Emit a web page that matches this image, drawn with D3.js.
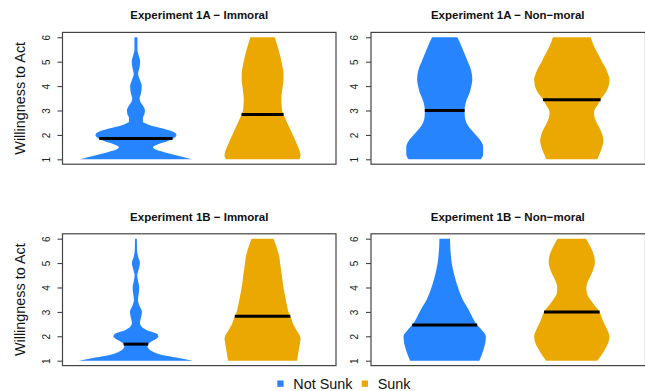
<!DOCTYPE html>
<html>
<head>
<meta charset="utf-8">
<script src="https://cdn.jsdelivr.net/npm/d3@7"></script>
<style>
body { margin: 0; background: #fff; }
svg { display: block; font-family: "Liberation Sans", Arial, Helvetica, sans-serif; }
</style>
</head>
<body>
<div id="chart"></div>
<script>
// panel titles, groups and ticks
const titles = ["Experiment 1A \u2212 Immoral", "Experiment 1A \u2212 Non\u2212moral",
                "Experiment 1B \u2212 Immoral", "Experiment 1B \u2212 Non\u2212moral"];
const groups = ["Not Sunk", "Sunk"];
const colors = ["#2684FF", "#EAA800"];
const yTicks = [1, 2, 3, 4, 5, 6];

// medians per panel: [Not Sunk, Sunk]
const medians = [[1.85, 2.84], [3.0, 3.44], [1.68, 2.82], [2.46, 3.0]];

// violin profiles: [response, relative density]
const d1AImmoralNot = [[1,56],[1.1,47],[1.2,37],[1.3,27.5],[1.4,19.5],[1.5,17],[1.6,21],[1.75,32],[1.9,39],[2.0,40.5],[2.1,38.5],[2.25,28],[2.4,14],[2.55,7],[2.7,7],[2.85,8.5],[3.0,9],[3.2,7],[3.35,4.5],[3.5,3.7],[3.7,5],[4.0,5.8],[4.25,4],[4.5,2.2],[4.75,3.5],[5.0,4.2],[5.25,2.8],[5.5,1.5],[6.0,1.5]];
const d1AImmoralSunk = [[1,36.5],[1.15,38],[1.3,37.5],[1.5,35.5],[1.75,33],[2.0,30.2],[2.25,27.4],[2.5,24.6],[2.75,21.8],[3.0,19.6],[3.25,19],[3.5,18.8],[3.75,19.4],[4.0,20.2],[4.25,20.9],[4.5,20.9],[4.75,20.1],[5.0,18.9],[5.25,17.5],[5.5,15.9],[5.75,14.1],[6.0,12.2]];
const d1ANonNot = [[1,36],[1.15,38],[1.25,38.3],[1.5,38.3],[1.75,36],[2.0,31],[2.25,25.5],[2.5,21.5],[2.75,20],[3.0,19.8],[3.25,20.5],[3.5,22.5],[3.75,25],[4.0,26.5],[4.25,27.5],[4.5,27],[4.75,25.5],[5.0,23],[5.25,20.5],[5.5,18],[5.75,15.5],[6.0,12.5]];
const d1ANonSunk = [[1,25.3],[1.25,28],[1.5,30.3],[1.75,31.5],[2.0,30.5],[2.25,28],[2.5,24.8],[2.75,22.5],[2.9,22.2],[3.0,22.5],[3.25,26],[3.5,29.5],[3.75,34],[4.0,36.7],[4.3,37.5],[4.5,36],[4.75,33.5],[5.0,30],[5.25,27],[5.5,23.7],[5.75,21],[6.0,18.8]];
const d1BImmoralNot = [[1,57],[1.1,44],[1.2,30],[1.3,21],[1.4,15.5],[1.5,12.5],[1.6,11.5],[1.7,12.5],[1.8,16],[1.9,20.5],[2.0,22.5],[2.1,21],[2.25,11],[2.4,5.5],[2.55,4],[2.75,5],[3.0,6],[3.25,3.5],[3.5,2],[3.75,2.8],[4.0,3.3],[4.25,2.2],[4.5,1.3],[4.75,2.8],[5.0,4],[5.25,2.3],[5.5,1.2],[5.75,1],[6.0,0.9]];
const d1BImmoralSunk = [[1,34.5],[1.25,35.5],[1.5,36.5],[1.75,37.5],[1.9,38],[2.0,37.5],[2.25,34],[2.5,30.5],[2.75,28.5],[3.0,25.9],[3.25,24.4],[3.5,23.2],[3.75,22],[4.0,20.9],[4.25,20],[4.5,19.3],[4.75,18.4],[5.0,17.5],[5.25,16.8],[5.5,15.2],[5.75,13.2],[6.0,10.9]];
const d1BNonNot = [[1,34.5],[1.25,37],[1.5,39],[1.75,40.5],[2.0,41],[2.25,37],[2.5,31.5],[2.75,28],[3.0,25],[3.25,21.5],[3.5,18],[3.75,15.3],[4.0,13.2],[4.25,11.3],[4.5,9.6],[4.75,8.2],[5.0,7],[5.25,6.3],[5.5,5.8],[5.75,5.4],[6.0,5.3]];
const d1BNonSunk = [[1,25.5],[1.25,30],[1.5,33.5],[1.75,36.5],[2.0,37.5],[2.25,35.5],[2.5,32.5],[2.75,30],[3.0,27.7],[3.25,23],[3.5,18.5],[3.75,15],[4.0,14.5],[4.25,16],[4.5,19],[4.75,21.5],[5.0,23],[5.25,22.5],[5.5,20.5],[5.75,17.5],[6.0,14.2]];

const profiles = [[d1AImmoralNot, d1AImmoralSunk], [d1ANonNot, d1ANonSunk],
                  [d1BImmoralNot, d1BImmoralSunk], [d1BNonNot, d1BNonSunk]];

const W = 645, H = 391;
const cols = [[62.5, 336], [371, 645.5]];
const rows = [[32.4, 164.2], [233.8, 365.6]];

// relative density -> half width in category units
const wScale = d3.scaleLinear().domain([0, 100]).range([0, 0.79]);

const svg = d3.select("#chart").append("svg")
	.attr("width", W)
	.attr("height", H);

titles.forEach((title, i) => {
	const r = Math.floor(i / 2), c = i % 2;
	const x = d3.scaleLinear().domain([0.42, 2.58]).range(cols[c]);
	const y = d3.scaleLinear().domain([0.8, 6.2]).range([rows[r][1], rows[r][0]]);
	const g = svg.append("g");

	profiles[i].forEach((prof, k) => {
		const pos = k + 1;
		const area = d3.area()
			.curve(d3.curveMonotoneY)
			.y(d => y(d[0]))
			.x0(d => x(pos - wScale(d[1])))
			.x1(d => x(pos + wScale(d[1])));
		g.append("path")
			.attr("d", area(prof.slice().reverse()))
			.attr("fill", colors[k]);

		// median bar spans the violin width at the median
		const at = d3.scaleLinear().domain(prof.map(d => d[0])).range(prof.map(d => d[1]));
		const m = medians[i][k];
		const hw = wScale(at(m));
		g.append("line")
			.attr("x1", x(pos - hw)).attr("x2", x(pos + hw))
			.attr("y1", y(m)).attr("y2", y(m))
			.attr("stroke", "#000")
			.attr("stroke-width", 3);
	});

	// y axis
	const ax = g.append("g")
		.attr("transform", `translate(${cols[c][0]},0)`)
		.call(d3.axisLeft(y).tickValues(yTicks).tickFormat(d3.format("d")).tickSize(5).tickSizeOuter(0));
	ax.attr("font-family", null);
	ax.select(".domain").remove();
	ax.selectAll(".tick line").attr("stroke", "#333");
	ax.selectAll(".tick text")
		.attr("x", 0).attr("dy", 0)
		.attr("text-anchor", "middle")
		.attr("transform", "translate(-13,0) rotate(-90)")
		.attr("fill", "#222")
		.style("font-size", "10px");

	// box
	g.append("rect")
		.attr("x", cols[c][0]).attr("y", rows[r][0])
		.attr("width", cols[c][1] - cols[c][0])
		.attr("height", rows[r][1] - rows[r][0])
		.attr("fill", "none")
		.attr("stroke", "#444")
		.attr("stroke-width", 1.2);

	g.append("text")
		.attr("x", (cols[c][0] + cols[c][1]) / 2 - (c === 1 ? 0.5 : 0))
		.attr("y", rows[r][0] - 13.2)
		.attr("text-anchor", "middle")
		.attr("font-weight", "bold")
		.style("font-size", "11.5px")
		.attr("fill", "#111")
		.text(title);

	if (c === 0) {
		g.append("text")
			.attr("transform", `translate(25,${(rows[r][0] + rows[r][1]) / 2}) rotate(-90)`)
			.attr("text-anchor", "middle")
			.style("font-size", "14.4px")
			.attr("fill", "#111")
			.text("Willingness to Act");
	}
});

// legend
const legX = [277.3, 361.7];
groups.forEach((name, k) => {
	svg.append("rect")
		.attr("x", legX[k]).attr("y", 380.5)
		.attr("width", 6.3).attr("height", 6.3)
		.attr("fill", colors[k]);
	svg.append("text")
		.attr("x", legX[k] + 16)
		.attr("y", 389)
		.style("font-size", "14.4px")
		.attr("fill", "#111")
		.text(name);
});
</script>
</body>
</html>
